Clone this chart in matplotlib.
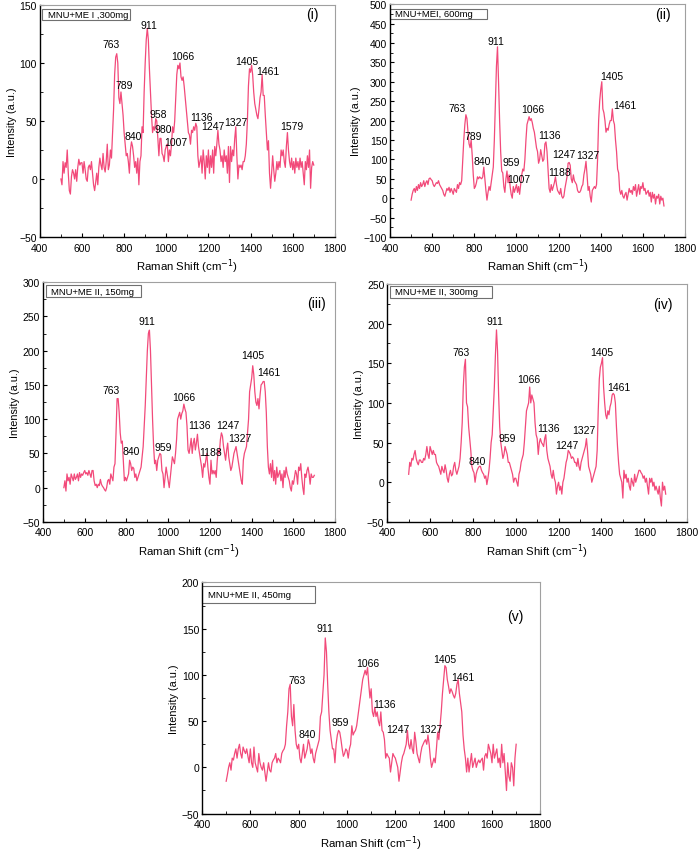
import numpy as np
import matplotlib
matplotlib.use("Agg")
import matplotlib.pyplot as plt
from matplotlib.patches import Rectangle
from matplotlib.ticker import MultipleLocator

plt.rcParams['font.family'] = ['Liberation Sans', 'DejaVu Sans']

# Raman shift grid (cm-1), 5 cm-1 steps from 500 to 1700
shift = np.arange(500, 1701, 5)

# (i) MNU+ME I, 300mg
int_i = [
    0, -5, 15, 5, 14, 10, 25, 5, -10, -13, 2, 8, 5, 0, 8, -2, 10, 17, 12, 14,
    14, 5, 15, 8, 0, -2, 10, 12, 8, 15, 5, -5, -10, -3, 5, -5, 10, 18, 12, 8,
    22, 10, 6, 15, 30, 8, 12, 25, 18, 40, 60, 90, 105, 108, 100, 70, 65, 75, 65, 55,
    40, 30, 20, 22, 15, 5, 25, 32, 28, 20, 10, 15, 5, 18, -5, 15, 20, 45, 40, 75,
    100, 120, 130, 120, 95, 75, 55, 40, 45, 42, 52, 50, 35, 20, 35, 35, 22, 20, 15, 25,
    28, 30, 15, 25, 20, 30, 45, 40, 50, 70, 90, 98, 95, 100, 88, 85, 88, 80, 70, 60,
    50, 40, 38, 30, 42, 40, 45, 42, 48, 45, 20, 10, 15, 20, 5, 25, 15, 0, 20, 10,
    25, 5, 20, 10, 25, 5, 28, 20, 30, 42, 30, 25, 15, 20, 10, 25, 15, 20, 5, 28,
    -3, 28, 15, 25, 20, 35, 45, 20, 0, 12, 10, 12, 8, 15, 15, 20, 30, 50, 80, 95,
    92, 98, 90, 75, 65, 60, 55, 52, 60, 70, 75, 90, 72, 72, 55, 40, 25, 33, 5, -8,
    5, 20, 8, -2, 5, 15, 8, 15, 10, 25, 20, 25, 15, 10, 28, 40, 25, 15, 10, 18,
    8, 15, 5, 18, 10, 15, 8, 18, 10, 15, 5, -5, 15, 8, 20, 10, 25, -8, 10, 15,
    12,
]

# (ii) MNU+MEI, 600mg
int_ii = [
    -5, 10, 20, 25, 15, 30, 20, 35, 25, 40, 30, 35, 45, 30, 40, 45, 35, 50, 52, 48,
    45, 35, 30, 35, 40, 38, 45, 35, 30, 25, 20, 10, 5, 15, 25, 20, 28, 15, 25, 18,
    10, 25, 20, 15, 35, 25, 40, 35, 45, 100, 150, 190, 215, 205, 170, 140, 130, 150, 110, 60,
    25, 30, 40, 55, 50, 55, 52, 50, 55, 80, 50, 20, -5, 15, 30, 20, 40, 60, 80, 150,
    250, 340, 390, 300, 200, 120, 70, 65, 30, 15, 50, 70, 40, 60, 30, 10, 0, 30, 15, 25,
    35, 15, 30, 10, 35, 60, 75, 70, 100, 150, 190, 200, 210, 200, 205, 195, 180, 170, 150, 130,
    120, 90, 100, 125, 110, 95, 100, 140, 145, 120, 70, 25, 15, 35, 20, 30, 40, 55, 35, 20,
    15, 10, 25, 5, 0, 5, 25, 40, 55, 90, 92, 85, 50, 40, 60, 45, 40, 35, 20, 15,
    15, 20, 30, 35, 60, 75, 95, 60, 20, 30, 5, -10, 20, 25, 30, 25, 35, 100, 200, 250,
    280, 300, 230, 220, 200, 170, 180, 175, 190, 200, 200, 230, 200, 190, 150, 120, 75, 65, 20, 10,
    20, 5, 0, 10, 15, -5, 10, 25, 15, 20, 10, 30, 20, 35, 5, 20, 35, 10, 30, 25,
    40, 20, 25, 10, 15, 20, 5, 15, -10, 15, 0, 10, -15, 5, 0, 10, -15, 5, -5, 0,
    -20,
]

# (iii) MNU+ME II, 150mg
int_iii = [
    0, 10, -5, 20, 10, 15, 5, 20, 15, 10, 20, 12, 15, 20, 10, 22, 15, 20, 18, 22,
    25, 20, 22, 18, 25, 20, 15, 25, 25, 10, 3, 5, 0, 5, 3, 12, 5, 2, 0, -3,
    -5, 0, 10, 12, 5, 20, 15, 10, 30, 35, 80, 130, 130, 110, 80, 65, 68, 40, 10, 15,
    10, 15, 20, 40, 35, 25, 30, 28, 15, 20, 10, 15, 20, 25, 30, 45, 60, 90, 120, 160,
    200, 225, 230, 200, 150, 100, 60, 35, 40, 25, 40, 45, 50, 48, 25, 20, 0, 15, 30, 20,
    10, 0, 15, 30, 45, 40, 35, 50, 70, 100, 105, 110, 100, 108, 112, 122, 115, 110, 90, 55,
    50, 60, 72, 50, 65, 72, 55, 65, 78, 60, 50, 40, 30, 15, 35, 30, 40, 50, 30, 15,
    5, 40, 20, 25, 20, 25, 15, 40, 55, 50, 70, 80, 75, 60, 50, 40, 55, 65, 45, 35,
    25, 30, 40, 50, 55, 60, 50, 40, 30, 20, 10, 5, 40, 50, 55, 60, 80, 100, 140, 150,
    160, 178, 165, 140, 125, 120, 130, 115, 135, 150, 152, 155, 155, 140, 110, 60, 30, 20, 35, 15,
    40, 10, 25, 5, 30, 15, 20, 25, 10, 20, 0, 25, 15, 30, 20, 15, 10, 0, -5, 10,
    5, 15, 25, 20, 5, 30, 25, 35, 15, 0, -10, 20, 15, 25, 30, 20, 5, 20, 15, 15,
    18,
]

# (iv) MNU+ME II, 300mg
int_iv = [
    10, 25, 20, 30, 28, 35, 40, 30, 25, 22, 28, 28, 25, 25, 30, 28, 35, 45, 35, 30,
    45, 40, 35, 40, 35, 35, 25, 22, 20, 15, 10, 20, 15, 12, 22, 15, 5, 0, 10, 15,
    8, 10, 20, 25, 15, 10, 15, 20, 30, 50, 75, 120, 145, 155, 100, 95, 70, 55, 40, 20,
    15, 12, 0, 10, 15, 18, 20, 20, 15, 12, 10, 5, 8, -3, 5, 15, 30, 50, 60, 90,
    120, 160, 192, 165, 110, 70, 50, 40, 30, 35, 45, 40, 35, 25, 25, 20, 15, 10, 0, 5,
    5, 0, -5, 10, 15, 25, 30, 35, 50, 70, 90, 95, 100, 120, 100, 110, 105, 100, 75, 60,
    55, 35, 50, 55, 50, 48, 45, 55, 60, 40, 30, 25, 20, 10, 5, 15, 5, 0, -15, -5,
    0, -10, -5, -15, 0, 5, 15, 25, 30, 40, 38, 35, 30, 32, 30, 25, 25, 20, 30, 20,
    15, 25, 30, 35, 40, 45, 55, 40, 20, 15, 10, 0, 5, 10, 15, 20, 40, 90, 130, 145,
    150, 157, 120, 100, 85, 80, 90, 85, 95, 100, 110, 112, 110, 100, 70, 45, 25, 10, 5, 0,
    -20, 15, 5, 10, 0, 5, -5, -10, 5, 0, -5, 10, 0, 5, 10, 15, 15, 12, 10, 5,
    8, 0, 5, -5, -15, 5, 0, 5, -5, 0, -10, -5, -10, -15, -5, -20, -30, 0, -10, -5,
    -15,
]

# (v) MNU+ME II, 450mg
int_v = [
    -15, -8, 0, 5, -3, 10, 8, 15, 20, 10, 20, 25, 15, 10, 22, 18, 15, 20, 12, 5,
    20, 5, 0, 22, 5, 0, -5, 15, 5, 0, -3, 5, -5, -15, -5, 5, -3, -5, 5, 8,
    10, 15, 5, 10, 8, 5, 15, 18, 20, 25, 45, 60, 85, 90, 55, 45, 68, 40, 25, 20,
    25, 10, 5, 15, 25, 10, 15, 20, 30, 25, 15, 20, 10, 5, 15, 20, 25, 30, 55, 60,
    80, 100, 140, 125, 90, 60, 40, 30, 20, 20, 5, 25, 35, 40, 38, 30, 20, 12, 15, 20,
    18, 10, 20, 25, 45, 35, 38, 40, 45, 55, 65, 75, 85, 95, 100, 105, 100, 108, 90, 75,
    85, 60, 55, 65, 55, 60, 50, 45, 60, 40, 38, 30, 10, 15, 12, 10, -5, 5, 15, 12,
    10, 5, 0, -15, -5, 5, 12, 15, 20, 25, 40, 25, 20, 30, 20, 15, 38, 28, 15, 10,
    5, 15, 22, 25, 28, 30, 25, 35, 25, 10, 0, 5, 10, 5, 20, 38, 30, 45, 60, 80,
    95, 110, 108, 95, 88, 80, 85, 82, 78, 75, 80, 90, 95, 80, 70, 60, 35, 20, 10, -5,
    10, -5, 5, 15, 0, 5, 10, 0, 5, 8, 5, 8, 10, -3, 12, 15, 10, 25, 20, 15,
    5, 25, 10, 15, 20, 5, 10, 0, 25, 5, 15, -5, -25, 5, -10, -15, 5, 0, -20, 10,
    25,
]

txt_i = ["763", "789", "840", "911", "958", "980", "1007", "1066",
         "1136", "1247", "1327", "1405", "1461", "1579"]
txt_ii = ["763", "789", "840", "911", "959", "1007", "1066", "1136", "1188",
          "1247", "1327", "1405", "1461"]
txt_iii = ["763", "840", "911", "959", "1066", "1136", "1188", "1247", "1327",
           "1405", "1461"]
txt_iv = ["763", "840", "911", "959", "1066", "1136", "1247", "1327", "1405", "1461"]
txt_v = ["763", "840", "911", "959", "1066", "1136", "1247", "1327", "1405", "1461"]

# label anchor points (data coords) for each panel
lab_i = [(740, 116), (799, 81), (843, 37), (917, 133), (962, 56), (985, 43),
         (1044, 32), (1077, 106), (1167, 53), (1220, 46), (1330, 49),
         (1381, 102), (1484, 93), (1595, 46)]
lab_ii = [(716, 232), (796, 159), (835, 96), (902, 404), (977, 92), (1009, 49),
          (1077, 231), (1156, 162), (1207, 68), (1223, 115), (1338, 111),
          (1452, 314), (1516, 240)]
lab_iii = [(725, 143), (824, 53), (899, 243), (976, 60), (1075, 133),
           (1152, 92), (1205, 52), (1285, 91), (1341, 72), (1403, 194), (1480, 169)]
lab_iv = [(746, 164), (822, 27), (905, 203), (959, 56), (1060, 130), (1153, 68),
          (1239, 47), (1316, 66), (1402, 164), (1479, 120)]
lab_v = [(793, 94), (837, 36), (909, 151), (973, 49), (1087, 113), (1153, 69),
         (1209, 42), (1346, 42), (1406, 117), (1478, 98)]

panels = [
    dict(y=int_i, txt=txt_i, pos=lab_i, name="MNU+ME I ,300mg", tag="(i)",
         ylim=(-50, 150), rect=[0.057, 0.721, 0.422, 0.272],
         box=(0.009, 0.937, 0.295, 0.046), tagpos=(1694, 142)),
    dict(y=int_ii, txt=txt_ii, pos=lab_ii, name="MNU+MEI, 600mg", tag="(ii)",
         ylim=(-100, 500), rect=[0.558, 0.721, 0.422, 0.273],
         box=(0.0, 0.937, 0.328, 0.043), tagpos=(1694, 474)),
    dict(y=int_iii, txt=txt_iii, pos=lab_iii, name="MNU+ME II, 150mg", tag="(iii)",
         ylim=(-50, 300), rect=[0.0615, 0.387, 0.418, 0.281],
         box=(0.011, 0.937, 0.326, 0.052), tagpos=(1709, 270)),
    dict(y=int_iv, txt=txt_iv, pos=lab_iv, name="MNU+ME II, 300mg", tag="(iv)",
         ylim=(-50, 250), rect=[0.554, 0.387, 0.429, 0.279],
         box=(0.009, 0.941, 0.340, 0.052), tagpos=(1689, 225)),
    dict(y=int_v, txt=txt_v, pos=lab_v, name="MNU+ME II, 450mg", tag="(v)",
         ylim=(-50, 200), rect=[0.289, 0.045, 0.484, 0.271],
         box=(0.0, 0.910, 0.335, 0.076), tagpos=(1697, 164)),
]

line_color = "#f24a7a"

fig = plt.figure(figsize=(6.99, 8.53), dpi=100)

for p in panels:
    ax = fig.add_axes(p["rect"])
    ax.plot(shift, p["y"], color=line_color, lw=0.9)
    ax.set_xlim(400, 1800)
    ax.set_ylim(*p["ylim"])
    ax.xaxis.set_major_locator(MultipleLocator(200))
    ax.xaxis.set_minor_locator(MultipleLocator(100))
    ax.yaxis.set_major_locator(MultipleLocator(50))
    ax.yaxis.set_minor_locator(MultipleLocator(25))
    ax.tick_params(which="both", direction="in", top=False, right=False,
                   labelsize=7.5)
    ax.tick_params(axis="x", pad=4)
    ax.tick_params(axis="y", pad=2)
    ax.tick_params(which="major", length=3, width=0.8)
    ax.tick_params(which="minor", length=2, width=0.6)
    for s in ("top", "right"):
        ax.spines[s].set_color("#a0a0a0")
        ax.spines[s].set_linewidth(0.8)
    for s in ("left", "bottom"):
        ax.spines[s].set_linewidth(1.0)
    ax.set_xlabel("Raman Shift (cm$^{-1}$)", fontsize=8.2, labelpad=3)
    ax.set_ylabel("Intensity (a.u.)", fontsize=7.8, labelpad=2)

    for t, (tx, ty) in zip(p["txt"], p["pos"]):
        ax.text(tx, ty, t, fontsize=7.5, ha="center", va="center")
    ax.text(p["tagpos"][0], p["tagpos"][1], p["tag"], fontsize=10,
            ha="center", va="center")

    bx, by, bw, bh = p["box"]
    ax.add_patch(Rectangle((bx, by), bw, bh, transform=ax.transAxes,
                           fill=False, edgecolor="#707070", lw=0.8,
                           clip_on=False))
    ax.text(bx + 0.018, by + bh / 2, p["name"], transform=ax.transAxes,
            fontsize=6.8, ha="left", va="center")

fig.savefig("out.png", dpi=100)
